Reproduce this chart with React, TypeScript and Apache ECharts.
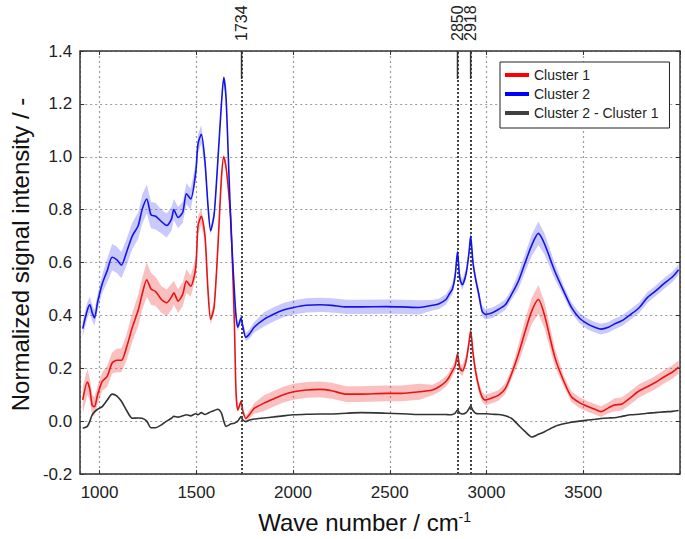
import React, { useEffect, useRef } from "react";
import * as echarts from "echarts";

const waveNumbers = [
  913, 937, 950, 962, 974, 990, 1014, 1040, 1065, 1090,
  1113, 1140, 1169, 1200, 1220, 1244, 1266, 1290, 1320, 1347,
  1372, 1384, 1406, 1430, 1449, 1471, 1497, 1509, 1526, 1545,
  1560, 1574, 1592, 1611, 1630, 1642, 1654, 1668, 1680, 1697,
  1705, 1714, 1722, 1731, 1740, 1756, 1775, 1799, 1850, 1902,
  1950, 2004, 2070, 2141, 2200, 2276, 2350, 2481, 2560, 2653,
  2720, 2755, 2790, 2807, 2824, 2838, 2850, 2862, 2875, 2895,
  2910, 2918, 2930, 2943, 2960, 2977, 2994, 3030, 3063, 3097,
  3130, 3165, 3200, 3234, 3268, 3300, 3353, 3400, 3439, 3480,
  3524, 3560, 3592, 3630, 3660, 3700, 3746, 3790, 3831, 3870,
  3917, 3960, 3993,
];

const cluster1 = [
  0.08, 0.148, 0.12, 0.06, 0.055, 0.10, 0.15, 0.17, 0.22, 0.23,
  0.23, 0.28, 0.354, 0.42, 0.48, 0.535, 0.50, 0.49, 0.46, 0.448,
  0.47, 0.485, 0.454, 0.48, 0.53, 0.51, 0.58, 0.74, 0.775, 0.70,
  0.50, 0.385, 0.43, 0.65, 0.92, 1.0, 0.96, 0.86, 0.74, 0.367,
  0.118, 0.042, 0.055, 0.075, 0.04, 0.01, 0.025, 0.048, 0.068, 0.085,
  0.10, 0.111, 0.118, 0.12, 0.115, 0.102, 0.102, 0.105, 0.105, 0.111,
  0.118, 0.13, 0.15, 0.167, 0.19, 0.21, 0.254, 0.20, 0.19, 0.23,
  0.30, 0.342, 0.26, 0.19, 0.13, 0.092, 0.08, 0.088, 0.098, 0.123,
  0.18, 0.254, 0.34, 0.417, 0.46, 0.40, 0.242, 0.15, 0.092, 0.07,
  0.055, 0.045, 0.036, 0.05, 0.061, 0.065, 0.09, 0.115, 0.13, 0.145,
  0.167, 0.185, 0.204,
];

const cluster1Spread = [
  0.05, 0.05, 0.04, 0.04, 0.035, 0.035, 0.035, 0.04, 0.04, 0.045,
  0.045, 0.05, 0.055, 0.06, 0.06, 0.065, 0.06, 0.055, 0.05, 0.05,
  0.05, 0.045, 0.045, 0.045, 0.045, 0.04, 0.04, 0.035, 0.03, 0.025,
  0.02, 0.02, 0.02, 0.015, 0.015, 0.01, 0.01, 0.01, 0.01, 0.01,
  0.01, 0.01, 0.01, 0.01, 0.01, 0.01, 0.015, 0.02, 0.03, 0.03,
  0.03, 0.03, 0.03, 0.03, 0.03, 0.03, 0.03, 0.03, 0.03, 0.03,
  0.02, 0.02, 0.02, 0.02, 0.02, 0.02, 0.02, 0.02, 0.02, 0.02,
  0.02, 0.02, 0.02, 0.02, 0.02, 0.02, 0.02, 0.02, 0.02, 0.02,
  0.02, 0.035, 0.045, 0.05, 0.055, 0.05, 0.035, 0.02, 0.02, 0.02,
  0.02, 0.02, 0.02, 0.02, 0.025, 0.025, 0.025, 0.025, 0.025, 0.025,
  0.025, 0.025, 0.025,
];

const cluster2 = [
  0.35, 0.42, 0.44, 0.41, 0.39, 0.45, 0.52, 0.57, 0.62, 0.61,
  0.59, 0.64, 0.70, 0.74, 0.80, 0.84, 0.78, 0.775, 0.755, 0.74,
  0.765, 0.80, 0.77, 0.79, 0.86, 0.84, 0.94, 1.05, 1.085, 0.98,
  0.82, 0.72, 0.78, 0.98, 1.20, 1.30, 1.22, 0.95, 0.72, 0.49,
  0.40, 0.355, 0.37, 0.39, 0.36, 0.317, 0.33, 0.355, 0.385, 0.405,
  0.42, 0.43, 0.438, 0.44, 0.438, 0.432, 0.432, 0.433, 0.432, 0.43,
  0.438, 0.444, 0.46, 0.48, 0.50, 0.55, 0.64, 0.54, 0.516, 0.56,
  0.64, 0.70, 0.60, 0.54, 0.48, 0.417, 0.404, 0.41, 0.423, 0.44,
  0.48, 0.53, 0.60, 0.666, 0.71, 0.67, 0.567, 0.49, 0.43, 0.39,
  0.367, 0.355, 0.348, 0.355, 0.367, 0.38, 0.404, 0.43, 0.467, 0.49,
  0.52, 0.545, 0.573,
];

const cluster2Spread = [
  0.03, 0.03, 0.03, 0.03, 0.03, 0.03, 0.035, 0.045, 0.05, 0.05,
  0.05, 0.05, 0.05, 0.05, 0.055, 0.055, 0.05, 0.05, 0.045, 0.045,
  0.045, 0.04, 0.04, 0.04, 0.04, 0.04, 0.035, 0.035, 0.035, 0.025,
  0.02, 0.015, 0.015, 0.015, 0.015, 0.01, 0.015, 0.015, 0.015, 0.015,
  0.015, 0.015, 0.015, 0.015, 0.015, 0.015, 0.018, 0.02, 0.027, 0.027,
  0.027, 0.027, 0.027, 0.027, 0.027, 0.027, 0.027, 0.027, 0.027, 0.027,
  0.02, 0.02, 0.02, 0.02, 0.02, 0.02, 0.02, 0.02, 0.02, 0.02,
  0.02, 0.02, 0.02, 0.02, 0.02, 0.02, 0.02, 0.02, 0.02, 0.02,
  0.02, 0.03, 0.035, 0.04, 0.045, 0.04, 0.03, 0.02, 0.02, 0.02,
  0.02, 0.02, 0.02, 0.02, 0.02, 0.02, 0.02, 0.02, 0.02, 0.02,
  0.02, 0.02, 0.02,
];

const difference = [
  -0.027, -0.02, 0.0, 0.024, 0.035, 0.045, 0.055, 0.08, 0.102, 0.095,
  0.075, 0.04, 0.011, 0.012, 0.011, 0.0, -0.025, -0.025, -0.014, 0.0,
  0.011, 0.018, 0.015, 0.02, 0.024, 0.02, 0.028, 0.024, 0.032, 0.025,
  0.03, 0.035, 0.04, 0.045, 0.03, 0.0, -0.02, -0.015, -0.01, -0.008,
  -0.005, 0.0, 0.008, 0.017, 0.005, -0.002, 0.004, 0.008, 0.012, 0.016,
  0.02, 0.024, 0.026, 0.027, 0.027, 0.03, 0.032, 0.03, 0.028, 0.025,
  0.025, 0.025, 0.025, 0.024, 0.025, 0.03, 0.042, 0.03, 0.027, 0.032,
  0.048, 0.057, 0.04, 0.03, 0.028, 0.028, 0.028, 0.026, 0.025, 0.02,
  0.01, -0.015, -0.04, -0.06, -0.05, -0.04, -0.02, -0.01, -0.004, 0.0,
  0.004, 0.007, 0.01, 0.012, 0.013, 0.018, 0.024, 0.026, 0.03, 0.032,
  0.035, 0.037, 0.04,
];

const markerWaveNumbers = [1734, 2850, 2918];
const seriesNames = ["Cluster 1", "Cluster 2", "Cluster 2 - Cluster 1"];

const FONT = "'Liberation Sans', Arial, Helvetica, sans-serif";
const RED = "#e81414";
const BLUE = "#1414e6";
const DARK = "#333333";

function App() {
  const ref = useRef<HTMLDivElement>(null);

  useEffect(() => {
    if (!ref.current) return;
    const chart = echarts.init(ref.current, null, { renderer: "svg" });

    const pts = (vals: number[]) => waveNumbers.map((x, i) => [x, vals[i]]);

    const band = (name: string, mean: number[], spread: number[], color: string) => ({
      name,
      type: "custom",
      silent: true,
      z: 1,
      clip: true,
      data: waveNumbers.map((x, i) => [x, mean[i] - spread[i], mean[i] + spread[i]]),
      encode: { x: 0, y: [1, 2] },
      renderItem: (params: any, api: any) => {
        if (params.dataIndex !== 0) return null;
        const upper = waveNumbers.map((x, i) => api.coord([x, mean[i] + spread[i]]));
        const lowerPts = waveNumbers
          .map((x, i) => api.coord([x, mean[i] - spread[i]]))
          .reverse();
        return {
          type: "polygon",
          shape: { points: upper.concat(lowerPts) },
          style: { fill: color, stroke: "none" },
        };
      },
    });

    const axisCommon = {
      axisLine: { show: true, onZero: false, lineStyle: { color: DARK, width: 1.5 } },
      axisTick: { show: true, inside: true, length: 4, lineStyle: { color: DARK } },
    };

    chart.setOption({
      animation: false,
      backgroundColor: "#ffffff",
      grid: { left: 74, right: 5, top: 51, bottom: 61, containLabel: false },
      legend: {
        data: seriesNames.map((n) => ({ name: n, icon: "rect" })),
        orient: "vertical",
        left: 500,
        top: 62,
        itemWidth: 24,
        itemHeight: 4,
        itemGap: 5,
        padding: [6, 11, 8, 5],
        borderColor: "#222",
        borderWidth: 1,
        backgroundColor: "#ffffff",
        textStyle: { fontSize: 14, color: "#222", fontFamily: FONT },
        selectedMode: false,
      },
      xAxis: [
        {
          type: "value",
          min: 900,
          max: 4000,
          name: "{a|Wave number / cm}{b|-1}",
          nameLocation: "middle",
          nameGap: 36,
          nameTextStyle: {
            fontFamily: FONT,
            color: "#111",
            padding: [0, 31, 0, 0],
            rich: {
              a: { fontSize: 24, fontFamily: FONT, color: "#111" },
              b: { fontSize: 14, fontFamily: FONT, color: "#111", verticalAlign: "top" },
            },
          },
          ...axisCommon,
          axisLabel: {
            fontSize: 17,
            color: "#222",
            fontFamily: FONT,
            margin: 10,
            showMinLabel: false,
            showMaxLabel: false,
            formatter: (v: number) => String(v),
          },
          splitLine: { show: true, lineStyle: { color: "#9a9a9a", type: [2, 3], width: 1.2 } },
        },
        {
          type: "value",
          position: "top",
          min: 900,
          max: 4000,
          ...axisCommon,
          axisLabel: { show: false },
          splitLine: { show: false },
        },
      ],
      yAxis: [
        {
          type: "value",
          min: -0.2,
          max: 1.4,
          interval: 0.2,
          name: "Normalized signal intensity / -",
          nameLocation: "middle",
          nameGap: 47,
          nameTextStyle: {
            fontSize: 24,
            color: "#111",
            fontFamily: FONT,
            padding: [0, 0, 0, 16],
          },
          ...axisCommon,
          axisLabel: {
            fontSize: 17,
            color: "#222",
            fontFamily: FONT,
            margin: 8,
            formatter: (v: number) => v.toFixed(1),
          },
          splitLine: { show: true, lineStyle: { color: "#9a9a9a", type: [2, 3], width: 1.2 } },
        },
        {
          type: "value",
          position: "right",
          min: -0.2,
          max: 1.4,
          interval: 0.2,
          ...axisCommon,
          axisLabel: { show: false },
          splitLine: { show: false },
        },
      ],
      series: [
        band("c1-band", cluster1, cluster1Spread, "rgba(240, 60, 60, 0.32)"),
        band("c2-band", cluster2, cluster2Spread, "rgba(60, 60, 240, 0.28)"),
        {
          name: seriesNames[2],
          type: "line",
          data: pts(difference),
          symbol: "none",
          smooth: 0.25,
          itemStyle: { color: "#404040" },
          lineStyle: { color: DARK, width: 1.6 },
          z: 3,
          markLine: {
            silent: true,
            symbol: ["none", "none"],
            label: { show: false },
            lineStyle: { type: [2, 2], color: "#444", width: 2 },
            data: markerWaveNumbers.map((v) => ({ xAxis: v })),
          },
        },
        {
          name: seriesNames[0],
          type: "line",
          data: pts(cluster1),
          symbol: "none",
          smooth: 0.25,
          itemStyle: { color: "#ff0000" },
          lineStyle: { color: RED, width: 1.6 },
          z: 4,
        },
        {
          name: seriesNames[1],
          type: "line",
          data: pts(cluster2),
          symbol: "none",
          smooth: 0.25,
          itemStyle: { color: "#0000ff" },
          lineStyle: { color: BLUE, width: 1.6 },
          z: 5,
        },
      ],
    });

    const gridTop = 51;
    const graphics: any[] = [];
    markerWaveNumbers.forEach((v) => {
      const px = chart.convertToPixel({ xAxisIndex: 0 }, v) as number;
      graphics.push({
        type: "line",
        shape: { x1: px, y1: gridTop, x2: px, y2: gridTop + 28 },
        style: { stroke: "#333", lineWidth: 1.5 },
        silent: true,
        z: 10,
      });
      graphics.push({
        type: "text",
        x: px,
        y: 41,
        rotation: Math.PI / 2,
        style: {
          text: String(v),
          fontSize: 16,
          fontFamily: FONT,
          fill: "#222",
          align: "left",
          verticalAlign: "middle",
          textAlign: "left",
          textVerticalAlign: "middle",
        },
        silent: true,
        z: 10,
      });
    });
    chart.setOption({ graphic: graphics });

    return () => chart.dispose();
  }, []);

  return (
    <div
      ref={ref}
      style={{ position: "fixed", left: 0, top: 0, width: 685, height: 539, background: "#fff" }}
    />
  );
}

export default App;
